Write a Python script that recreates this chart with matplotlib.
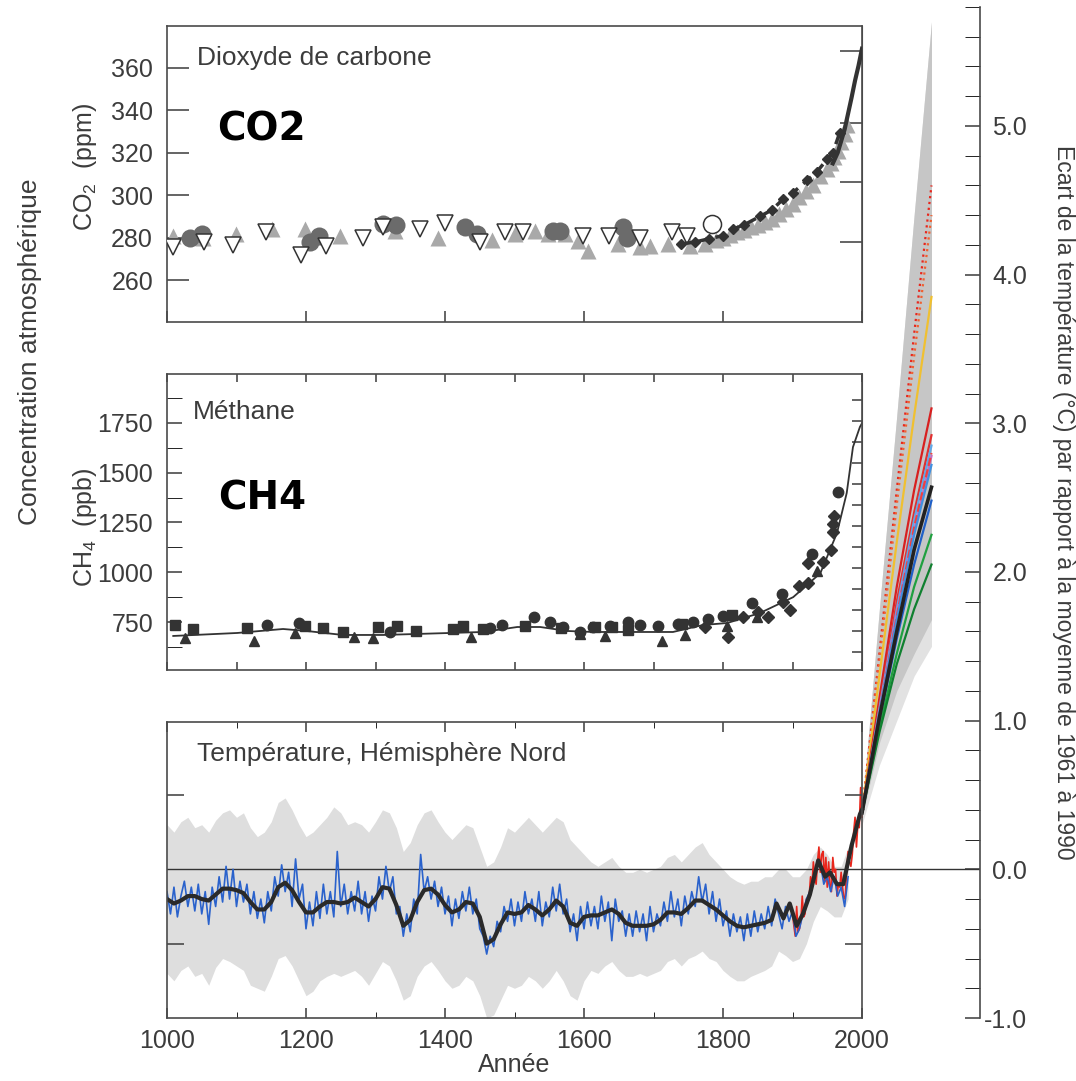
import numpy as np
import matplotlib
matplotlib.use('Agg')
import matplotlib.pyplot as plt
from matplotlib.ticker import MultipleLocator, FixedLocator

plt.rcParams['font.family'] = ['Liberation Sans', 'DejaVu Sans']
plt.rcParams['mathtext.fontset'] = 'custom'
plt.rcParams['mathtext.rm'] = 'Liberation Sans'
plt.rcParams['mathtext.default'] = 'regular'
plt.rcParams['axes.unicode_minus'] = False

# ---------------- CO2 (ppm) ----------------
co2_up_years = [1009, 1052, 1099, 1151, 1199, 1249, 1328, 1390, 1468, 1500, 1529, 1548, 1573, 1592,
                1606, 1649, 1681, 1695, 1721, 1752, 1774, 1790, 1800, 1810, 1820, 1830, 1840, 1850,
                1860, 1870, 1880, 1890, 1900, 1910, 1920, 1930, 1940, 1950, 1955, 1960, 1965, 1970,
                1975, 1978]
co2_up_vals = [280.8, 280.0, 281.6, 284.0, 284.0, 281.0, 283.0, 280.0, 279.0, 281.6, 283.0, 281.6, 281.6, 278.3,
               273.6, 277.0, 275.5, 276.0, 277.0, 276.0, 277.0, 279.0, 280.0, 281.5, 282.5, 283.5, 285.0, 286.0,
               287.5, 289.0, 291.0, 293.5, 296.0, 299.0, 302.0, 305.0, 309.0, 312.5, 315.0, 318.0, 321.0, 325.0,
               329.0, 333.0]
co2_circ_years = [1033, 1050, 1206, 1218, 1311, 1330, 1429, 1446, 1555, 1565, 1656, 1662]
co2_circ_vals = [279.7, 281.6, 278.0, 280.7, 286.3, 286.0, 285.0, 281.6, 283.0, 283.0, 285.0, 280.0]
co2_down_years = [1009, 1053, 1095, 1142, 1193, 1229, 1282, 1311, 1364, 1400, 1450, 1486, 1512,
                  1599, 1636, 1681, 1727, 1748]
co2_down_vals = [275.5, 277.8, 276.4, 282.5, 272.0, 276.0, 279.7, 285.0, 284.0, 287.0, 278.0, 282.5, 282.5,
                 280.7, 280.7, 280.0, 282.5, 280.7]
co2_ocirc_years = [1784]
co2_ocirc_vals = [286.3]
co2_dia_years = [1740, 1760, 1780, 1800, 1814, 1830, 1853, 1870, 1886, 1900, 1921, 1935, 1950, 1958, 1968]
co2_dia_vals = [277.0, 278.0, 279.5, 281.0, 284.0, 286.0, 290.0, 293.0, 298.0, 301.0, 307.0, 311.0, 317.0, 320.0, 329.5]
co2_ml_years = [1958, 1965, 1970, 1975, 1980, 1985, 1990, 1995, 2000]
co2_ml_vals = [315.0, 320.0, 325.5, 331.0, 338.5, 346.0, 354.0, 361.0, 369.0]

# ---------------- CH4 (ppb) ----------------
ch4_sq_years = [1012, 1037, 1115, 1199, 1224, 1253, 1304, 1331, 1358, 1412, 1426, 1454, 1515, 1567,
                1616, 1640, 1663, 1741, 1813]
ch4_sq_vals = [735, 715, 720, 730, 720, 700, 725, 730, 705, 715, 730, 715, 730, 720, 725, 725, 710, 740, 785]
ch4_circ_years = [1144, 1190, 1321, 1465, 1482, 1528, 1551, 1570, 1594, 1613, 1637, 1663, 1681, 1707,
                  1735, 1757, 1778, 1800, 1842, 1885, 1928, 1965]
ch4_circ_vals = [735, 745, 700, 720, 735, 775, 750, 725, 700, 725, 730, 750, 735, 730,
                 740, 750, 765, 780, 845, 890, 1090, 1405]
ch4_tri_years = [1026, 1125, 1184, 1269, 1296, 1437, 1594, 1630, 1712, 1745, 1806, 1849, 1935]
ch4_tri_vals = [670, 655, 695, 675, 670, 675, 690, 680, 655, 685, 730, 775, 1005]
ch4_dia_years = [1774, 1807, 1829, 1851, 1865, 1886, 1896, 1909, 1922, 1922, 1944, 1955, 1958, 1958, 1960]
ch4_dia_vals = [725, 675, 775, 800, 775, 850, 810, 930, 945, 1045, 1050, 1110, 1200, 1240, 1285]
ch4_line_years = [1009, 1101, 1167, 1201, 1253, 1311, 1407, 1455, 1504, 1537, 1576, 1613, 1728,
                  1771, 1806, 1853, 1901, 1940, 1964, 1978, 1987, 1997, 2001]
ch4_line_vals = [680, 695, 715, 705, 685, 685, 695, 700, 725, 725, 705, 700, 700,
                 735, 745, 795, 875, 995, 1197, 1398, 1629, 1730, 1755]

# ---------------- Northern hemisphere temperature (deg C) ----------------
blue_years = np.arange(1000, 1981, 5)
blue_vals = [
    -0.15, -0.30, -0.12, -0.32, -0.18, -0.08, -0.25, -0.12, -0.28, -0.10, -0.30, -0.15, -0.37, -0.12, -0.25, -0.05, -0.22, 0.02, -0.20, 0.00,
    -0.25, -0.08, -0.22, -0.10, -0.30, -0.15, -0.33, -0.20, -0.36, -0.15, -0.28, -0.05, -0.18, 0.03, -0.15, -0.02, -0.25, 0.07, -0.20, -0.10,
    -0.40, -0.22, -0.38, -0.15, -0.33, -0.10, -0.30, -0.15, -0.32, 0.12, -0.25, -0.10, -0.30, -0.15, -0.28, -0.08, -0.30, -0.15, -0.35, -0.18,
    -0.28, -0.05, -0.20, 0.02, -0.15, -0.05, -0.30, -0.25, -0.45, -0.30, -0.42, -0.20, -0.30, 0.10, -0.15, -0.05, -0.20, -0.08, -0.25, -0.12,
    -0.30, -0.18, -0.38, -0.20, -0.33, -0.15, -0.28, -0.12, -0.30, -0.20, -0.40, -0.45, -0.57, -0.45, -0.52, -0.35, -0.42, -0.25, -0.35, -0.20,
    -0.38, -0.22, -0.35, -0.15, -0.30, -0.20, -0.35, -0.15, -0.38, -0.22, -0.32, -0.12, -0.28, -0.10, -0.30, -0.20, -0.42, -0.30, -0.48, -0.25,
    -0.40, -0.22, -0.38, -0.25, -0.40, -0.18, -0.35, -0.22, -0.48, -0.20, -0.35, -0.28, -0.45, -0.30, -0.45, -0.28, -0.42, -0.30, -0.48, -0.25,
    -0.42, -0.30, -0.38, -0.22, -0.35, -0.15, -0.32, -0.20, -0.38, -0.18, -0.30, -0.15, -0.25, -0.05, -0.22, -0.10, -0.30, -0.15, -0.35, -0.20,
    -0.38, -0.28, -0.45, -0.30, -0.42, -0.32, -0.48, -0.30, -0.45, -0.28, -0.42, -0.30, -0.40, -0.25, -0.38, -0.20, -0.30, -0.40, -0.25, -0.35,
    -0.28, -0.45, -0.40, -0.30, -0.20, -0.15, -0.05, 0.02, 0.05, -0.10, -0.05, -0.15, -0.05, -0.18, -0.12, -0.25, -0.05]

band_years = np.arange(1000, 1990, 10)
band_upper = [
    0.30, 0.25, 0.32, 0.35, 0.28, 0.30, 0.25, 0.33, 0.38, 0.40,
    0.35, 0.38, 0.28, 0.22, 0.25, 0.32, 0.45, 0.48, 0.40, 0.30,
    0.22, 0.25, 0.30, 0.35, 0.42, 0.38, 0.30, 0.32, 0.30, 0.25,
    0.32, 0.40, 0.38, 0.28, 0.12, 0.18, 0.30, 0.38, 0.40, 0.32,
    0.25, 0.20, 0.25, 0.30, 0.28, 0.15, 0.02, 0.05, 0.15, 0.28,
    0.25, 0.30, 0.35, 0.30, 0.25, 0.30, 0.35, 0.32, 0.20, 0.15,
    0.10, 0.05, 0.02, 0.05, 0.08, 0.02, -0.02, -0.02, 0.00, -0.02,
    0.00, 0.02, 0.08, 0.10, 0.05, 0.10, 0.15, 0.18, 0.10, 0.05,
    0.00, -0.05, -0.08, -0.10, -0.08, -0.08, -0.05, -0.05, 0.00, 0.00,
    -0.05, -0.05, 0.00, 0.10, 0.15, 0.10, 0.02, 0.02, 0.15]
band_lower = [
    -0.70, -0.75, -0.68, -0.65, -0.72, -0.70, -0.78, -0.66, -0.60, -0.62,
    -0.65, -0.68, -0.78, -0.80, -0.82, -0.72, -0.60, -0.58, -0.65, -0.75,
    -0.85, -0.82, -0.75, -0.72, -0.70, -0.72, -0.70, -0.68, -0.72, -0.78,
    -0.70, -0.62, -0.65, -0.75, -0.88, -0.85, -0.72, -0.65, -0.62, -0.68,
    -0.75, -0.80, -0.78, -0.72, -0.75, -0.85, -1.00, -0.98, -0.88, -0.78,
    -0.80, -0.78, -0.72, -0.75, -0.80, -0.75, -0.68, -0.75, -0.85, -0.88,
    -0.75, -0.68, -0.70, -0.65, -0.62, -0.68, -0.72, -0.72, -0.70, -0.72,
    -0.70, -0.68, -0.62, -0.60, -0.65, -0.60, -0.58, -0.55, -0.60, -0.62,
    -0.68, -0.72, -0.75, -0.75, -0.72, -0.70, -0.68, -0.65, -0.55, -0.58,
    -0.62, -0.60, -0.50, -0.35, -0.25, -0.28, -0.32, -0.32, -0.20]

smooth_years = list(range(1000, 1880, 10)) + [1877, 1887, 1896, 1906, 1915, 1925, 1937, 1947, 1954,
                                              1964, 1973, 1985, 1997, 2000]
smooth_vals = [
    -0.20, -0.23, -0.21, -0.18, -0.18, -0.20, -0.21, -0.17, -0.13, -0.13,
    -0.14, -0.16, -0.22, -0.27, -0.27, -0.22, -0.12, -0.09, -0.14, -0.22,
    -0.29, -0.29, -0.25, -0.22, -0.22, -0.23, -0.22, -0.19, -0.22, -0.25,
    -0.20, -0.12, -0.13, -0.24, -0.38, -0.34, -0.22, -0.14, -0.13, -0.17,
    -0.24, -0.29, -0.27, -0.22, -0.23, -0.32, -0.50, -0.47, -0.37, -0.29,
    -0.30, -0.29, -0.24, -0.27, -0.31, -0.27, -0.21, -0.25, -0.36, -0.38,
    -0.32, -0.31, -0.31, -0.29, -0.27, -0.30, -0.36, -0.38, -0.38, -0.38,
    -0.37, -0.34, -0.29, -0.29, -0.30, -0.26, -0.21, -0.21, -0.24, -0.27,
    -0.31, -0.35, -0.38, -0.39, -0.38, -0.37, -0.36, -0.34,
    -0.23, -0.33, -0.23, -0.38, -0.30, -0.17, 0.06, -0.05, -0.02,
    -0.10, -0.10, 0.16, 0.37, 0.40]

red_years = np.arange(1900, 2001, 2)
red_vals = [-0.30, -0.38, -0.45, -0.25, -0.42, -0.40, -0.35, -0.18, -0.32, -0.30,
            -0.20, -0.22, -0.18, -0.05, -0.12, 0.05, -0.05, -0.10, 0.05, 0.15,
            -0.02, 0.10, 0.12, -0.08, 0.08, -0.12, 0.05, -0.10, -0.15, 0.08,
            -0.02, 0.00, -0.18, -0.10, -0.12, -0.02, -0.12, -0.20, -0.18, 0.00,
            0.12, 0.05, 0.02, 0.10, 0.25, 0.35, 0.15, 0.30, 0.28, 0.55, 0.35]

# ---------------- projections 2000-2100 ----------------
proj_years = [2000, 2025, 2050, 2075, 2100]
proj_upper = [0.40, 1.75, 3.05, 4.40, 5.70]
proj_dark_lower = [0.35, 0.85, 1.20, 1.45, 1.68]
proj_light_lower = [0.30, 0.70, 1.00, 1.30, 1.50]
proj_runs = [
    ([0.38, 1.45, 2.55, 3.60, 4.60], '#e8261c', ':'),
    ([0.38, 1.40, 2.45, 3.45, 4.40], '#f06030', ':'),
    ([0.38, 1.30, 2.20, 3.05, 3.85], '#f0c030', '-'),
    ([0.38, 1.15, 1.90, 2.55, 3.10], '#d82020', '-'),
    ([0.38, 1.10, 1.80, 2.40, 2.92], '#e03030', '-'),
    ([0.38, 1.08, 1.75, 2.35, 2.85], '#60a8e8', '-'),
    ([0.38, 1.06, 1.72, 2.28, 2.78], '#c070c0', '-'),
    ([0.38, 1.05, 1.70, 2.30, 2.80], '#f04040', '--'),
    ([0.38, 1.05, 1.68, 2.25, 2.72], '#4090e0', '-'),
    ([0.38, 1.00, 1.55, 2.05, 2.48], '#2060c8', '-'),
    ([0.38, 0.95, 1.45, 1.90, 2.25], '#20a040', '-'),
    ([0.38, 0.92, 1.38, 1.75, 2.05], '#108030', '-'),
]
proj_mean = [0.38, 1.02, 1.60, 2.15, 2.57]

# ---------------- figure ----------------
W, H = 1076, 1081
fig = plt.figure(figsize=(W / 100, H / 100), dpi=100)
TXT = '#3c3c3c'
SP = '#4a4a4a'


def box(x0, y0, x1, y1):
    return [x0 / W, 1 - y1 / H, (x1 - x0) / W, (y1 - y0) / H]


def frame(ax):
    for s in ax.spines.values():
        s.set_color(SP)
        s.set_linewidth(1.2)
    ax.tick_params(colors=SP, labelcolor=TXT, labelsize=18, width=1.2)


# big temperature axis (right scale)
ax_t = fig.add_axes(box(167, 7, 980, 1018))
ax_t.set_xlim(1000, 1000 + (980 - 167) / 0.695)
ax_t.set_ylim(-1.0, 5.8)
ax_t.patch.set_visible(False)
for s in ['top', 'left', 'bottom']:
    ax_t.spines[s].set_visible(False)
frame(ax_t)
ax_t.xaxis.set_visible(False)
ax_t.yaxis.tick_right()
ax_t.yaxis.set_major_locator(MultipleLocator(1.0))
ax_t.yaxis.set_minor_locator(MultipleLocator(0.2))
ax_t.yaxis.set_major_formatter('{x:.1f}')
ax_t.tick_params(axis='y', which='both', direction='in', length=11, pad=34)
for lbl in ax_t.get_yticklabels():
    lbl.set_ha('right')

ax_t.fill_between(band_years, band_lower, band_upper, color='#dedede', lw=0, zorder=1)
ax_t.fill_between(proj_years, proj_light_lower, proj_upper, color='#e2e2e2', lw=0, zorder=1)
ax_t.fill_between(proj_years, proj_dark_lower, proj_upper, color='#c6c6c6', lw=0, zorder=1)
ax_t.axhline(0, color='#333333', lw=1.0, zorder=2)
ax_t.plot(red_years, red_vals, color='#e8261c', lw=1.2, zorder=3)
ax_t.plot(blue_years, blue_vals, color='#2a62cc', lw=1.2, zorder=4)
for vals, col, ls in proj_runs:
    ax_t.plot(proj_years, vals, color=col, ls=ls, lw=1.6, zorder=4)
ax_t.plot(proj_years, proj_mean, color='#222222', lw=2.6, zorder=5)
ax_t.plot(smooth_years, smooth_vals, color='#2a2a2a', lw=3, zorder=6)

# temperature panel frame
ax_p = fig.add_axes(box(167, 722, 862, 1018))
ax_p.patch.set_visible(False)
ax_p.set_xlim(1000, 2000)
ax_p.set_ylim(-1.0, -1.0 + 296 / 148.7)
frame(ax_p)
ax_p.xaxis.set_major_locator(MultipleLocator(200))
ax_p.xaxis.set_minor_locator(MultipleLocator(100))
ax_p.set_yticks([-0.5, 0.5])
ax_p.tick_params(axis='x', which='major', direction='in', length=7, top=True, pad=8)
ax_p.tick_params(axis='x', which='minor', direction='in', length=4, top=True)
ax_p.tick_params(axis='y', direction='in', length=12, right=True, labelleft=False)
ax_p.text(0.043, 0.892, 'Température, Hémisphère Nord', transform=ax_p.transAxes,
          fontsize=19, color=TXT, va='center')
ax_p.set_xlabel('Année', fontsize=18, color=TXT, labelpad=0)

# CO2 panel
ax_c = fig.add_axes(box(167, 26, 862, 322))
ax_c.set_xlim(1000, 2000)
ax_c.set_ylim(240.3, 379.7)
frame(ax_c)
ax_c.set_yticks(np.arange(260, 361, 20))
ax_c.xaxis.set_major_locator(MultipleLocator(200))
ax_c.tick_params(axis='y', direction='in', length=16, pad=10)
ax_c.tick_params(axis='x', direction='in', length=8, labelbottom=False)
sec = ax_c.secondary_yaxis('right')
sec.set_yticks([278, 306, 334, 368])
sec.tick_params(direction='in', length=16, labelright=False, colors=SP, width=1.2)
sec.spines['right'].set_color(SP)

ax_c.plot(co2_up_years, co2_up_vals, '^', color='#a9a9a9', ms=11, mec='none', zorder=2)
ax_c.plot(co2_circ_years, co2_circ_vals, 'o', color='#6b6b6b', ms=13, mec='none', zorder=3)
ax_c.plot(co2_down_years, co2_down_vals, 'v', mfc='white', mec='#333333', ms=11, mew=1.1, zorder=4)
ax_c.plot(co2_ocirc_years, co2_ocirc_vals, 'o', mfc='none', mec='#333333', ms=13, mew=1.1, zorder=4)
ax_c.plot(co2_dia_years, co2_dia_vals, 'D', color='#333333', ms=5, ls=(0, (3, 2)), lw=2.5, zorder=5)
ax_c.plot(co2_ml_years, co2_ml_vals, color='#333333', lw=3, zorder=6)
ax_c.text(0.043, 0.892, 'Dioxyde de carbone', transform=ax_c.transAxes,
          fontsize=19, color=TXT, va='center')
ax_c.text(0.072, 0.65, 'CO2', transform=ax_c.transAxes, fontsize=28, color='black',
          fontweight='bold', family='DejaVu Sans', va='center')

# CH4 panel
ax_m = fig.add_axes(box(167, 374, 862, 670))
ax_m.set_xlim(1000, 2000)
ax_m.set_ylim(509, 1996)
frame(ax_m)
ax_m.set_yticks(np.arange(750, 1751, 250))
ax_m.yaxis.set_minor_locator(FixedLocator(np.arange(625, 1900, 125)))
ax_m.xaxis.set_major_locator(MultipleLocator(100))
ax_m.tick_params(axis='y', which='both', direction='in', length=11, pad=10)
ax_m.tick_params(axis='x', direction='in', length=6, top=True, labelbottom=False)
sec2 = ax_m.secondary_yaxis('right')
sec2.set_yticks(np.linspace(599, 1866, 13))
sec2.tick_params(direction='in', length=7, labelright=False, colors=SP, width=1.2)
sec2.spines['right'].set_color(SP)

ax_m.plot(ch4_line_years, ch4_line_vals, color='#333333', lw=1.3, zorder=2)
ax_m.plot(ch4_sq_years, ch4_sq_vals, 's', color='#333333', ms=7, zorder=3)
ax_m.plot(ch4_circ_years, ch4_circ_vals, 'o', color='#333333', ms=7.5, zorder=3)
ax_m.plot(ch4_tri_years, ch4_tri_vals, '^', color='#333333', ms=7, zorder=3)
ax_m.plot(ch4_dia_years, ch4_dia_vals, 'D', color='#333333', ms=6, zorder=3)
ax_m.text(0.037, 0.872, 'Méthane', transform=ax_m.transAxes,
          fontsize=19, color=TXT, va='center')
ax_m.text(0.073, 0.58, 'CH4', transform=ax_m.transAxes, fontsize=28, color='black',
          fontweight='bold', family='DejaVu Sans', va='center')

# axis titles
fig.text(85 / W, 1 - 167 / H, 'CO$_2$  (ppm)', rotation=90, ha='center', va='center',
         fontsize=18, color=TXT)
fig.text(85 / W, 1 - 527 / H, 'CH$_4$  (ppb)', rotation=90, ha='center', va='center',
         fontsize=18, color=TXT)
fig.text(30 / W, 1 - 352 / H, 'Concentration atmosphérique', rotation=90, ha='center',
         va='center', fontsize=19, color=TXT)
fig.text(1063 / W, 1 - 502 / H,
         'Ecart de la température (°C) par rapport à la moyenne de 1961 à 1990',
         rotation=270, ha='center', va='center', fontsize=16.5, color=TXT)

fig.savefig('out.png', dpi=100)
